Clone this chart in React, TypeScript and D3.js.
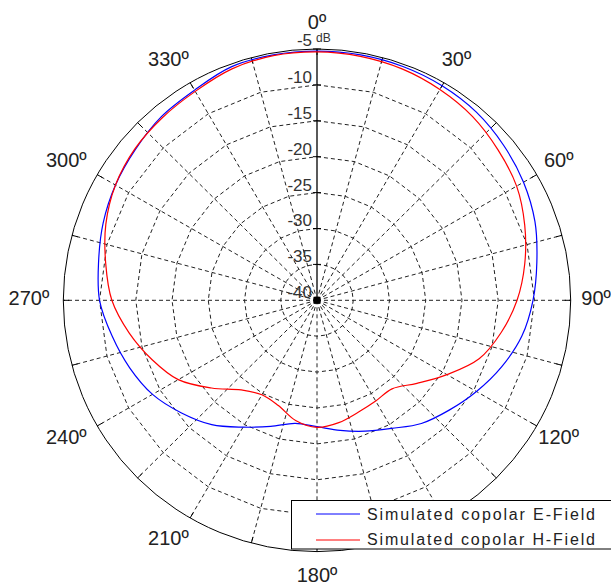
import React from "react";
import * as d3 from "d3";

// pattern angles (deg, clockwise from top) and gain (dB)
const angles = [0, 10, 20, 30, 40, 50, 60, 70, 80, 90, 100, 110, 120, 130, 140, 150, 160, 170,
  180, 190, 200, 210, 220, 230, 240, 250, 260, 270, 280, 290, 300, 310, 320, 330, 340, 350];
const eField = [-5.3, -5.3, -5.35, -5.5, -5.8, -6.4, -7.1, -8.0, -9.2, -10.2, -11.3, -12.9, -14.6, -16.2, -17.6, -19.4, -20.6, -21.6,
  -22.4, -22.6, -21.3, -19.6, -17.4, -15.6, -13.8, -12.5, -11.3, -10.0, -9.4, -8.6, -7.9, -7.3, -6.6, -6.2, -5.4, -5.3];
const hField = [-5.4, -5.5, -5.7, -6.1, -6.6, -7.4, -8.2, -9.5, -10.9, -12.4, -14.2, -16.2, -19.3, -22.0, -23.9, -23.8, -23.4, -22.7,
  -22.3, -23.0, -24.4, -24.8, -23.7, -21.0, -17.9, -15.8, -13.7, -11.7, -10.4, -9.0, -7.9, -7.2, -6.8, -6.4, -5.7, -5.4];

const ringLevels = [-35, -30, -25, -20, -15, -10];
const dbLabels = [-10, -15, -20, -25, -30, -35, -40];
const spokeAngles = [0, 15, 30, 45, 60, 75, 90, 105, 120, 135, 150, 165, 180, 195, 210, 225, 240, 255, 270, 285, 300, 315, 330, 345];
// 150º sits under the legend box in the original, so it is not shown
const angleLabels = [0, 30, 60, 90, 120, 180, 210, 240, 270, 300, 330];
const seriesNames = ["Simulated copolar E-Field", "Simulated copolar H-Field"];
const seriesColors = ["#0000ff", "#ff0000"];

const W = 611;
const H = 588;
const cx = 317;
const cy = 300.3;
const rx = 253.7;
const ry = 251.3;

const r = d3.scaleLinear().domain([-40, -5]).range([0, 1]);
const rad = (deg: number) => (deg * Math.PI) / 180;
const px = (deg: number, f: number) => cx + rx * f * Math.sin(rad(deg));
const py = (deg: number, f: number) => cy - ry * f * Math.cos(rad(deg));

const font = "'Liberation Sans', Arial, sans-serif";

function PolarChart() {
  const curve = d3.line<[number, number]>()
    .x(d => px(d[0], r(d[1])))
    .y(d => py(d[0], r(d[1])))
    .curve(d3.curveCatmullRomClosed);

  const series = [eField, hField].map(vals => angles.map((a, i) => [a, vals[i]] as [number, number]));

  return (
    <svg width={W} height={H} style={{ position: "absolute", left: 0, top: 0, background: "#fff" }}>
      {/* grid rings */}
      {ringLevels.map(lv => (
        <path key={lv}
          d={d3.line<number>().x(a => px(a, r(lv))).y(a => py(a, r(lv))).curve(d3.curveLinearClosed)(spokeAngles) || ""}
          fill="none" stroke="#222" strokeWidth={1} strokeDasharray="4,3" />
      ))}
      {/* spokes */}
      {spokeAngles.filter(a => a !== 0).map(a => (
        <line key={a} x1={cx} y1={cy} x2={px(a, 1)} y2={py(a, 1)}
          stroke="#222" strokeWidth={1} strokeDasharray="4,3" />
      ))}
      {/* outer ticks */}
      {spokeAngles.map(a => (
        <line key={"t" + a} x1={px(a, 1)} y1={py(a, 1)} x2={px(a, 1 - 6 / rx)} y2={py(a, 1 - 6 / ry)}
          stroke="#000" strokeWidth={1} />
      ))}
      {/* outer circle */}
      <ellipse cx={cx} cy={cy} rx={rx} ry={ry} fill="none" stroke="#000" strokeWidth={1} />
      {/* radial axis */}
      <line x1={cx} y1={cy} x2={cx} y2={py(0, 1)} stroke="#000" strokeWidth={1.3} />
      {dbLabels.concat([-5]).map(lv => (
        <line key={"a" + lv} x1={cx - 4} x2={cx + 4} y1={py(0, r(lv))} y2={py(0, r(lv))} stroke="#000" strokeWidth={1} />
      ))}
      <rect x={cx - 3.5} y={cy - 3.5} width={7} height={7} fill="#000" />
      {dbLabels.map(lv => (
        <text key={"l" + lv} x={cx - 5} y={py(0, r(lv)) - 8} dy="0.35em" textAnchor="end"
          fontFamily={font} fontSize={17} fill="#333">{lv}</text>
      ))}
      <text x={cx - 5} y={py(0, r(-5)) - 9} dy="0.35em" textAnchor="end" fontFamily={font} fontSize={17} fill="#333">-5</text>
      <text x={cx - 1} y={py(0, r(-5)) - 7} textAnchor="start" fontFamily={font} fontSize={12} fill="#333">dB</text>
      {/* series */}
      {series.map((s, i) => (
        <path key={"s" + i} d={curve(s) || ""} fill="none" stroke={seriesColors[i]} strokeWidth={1.2} />
      ))}
      {/* angle labels */}
      {angleLabels.map(a => {
        const s = Math.sin(rad(a));
        const nudge = s < -0.01 ? -9 : 0;
        return (
          <text key={"g" + a} x={px(a, 1.1) + nudge} y={py(a, 1.1) - 2} dy="0.35em" textAnchor="middle"
            fontFamily={font} fontSize={20} fill="#222">{a}º</text>
        );
      })}
      {/* legend */}
      <g>
        <rect x={291.5} y={500.5} width={330} height={48.5} fill="#fff" stroke="#000" strokeWidth={1} />
        {seriesNames.map((n, i) => (
          <g key={n}>
            <line x1={316} x2={360} y1={514 + i * 26} y2={514 + i * 26} stroke={seriesColors[i]} strokeWidth={1} />
            <text x={367} y={520 + i * 25} fontFamily={font} fontSize={16} fill="#222"
              textLength={228} lengthAdjust="spacing">{n}</text>
          </g>
        ))}
      </g>
    </svg>
  );
}

export default function App() {
  return <PolarChart />;
}
